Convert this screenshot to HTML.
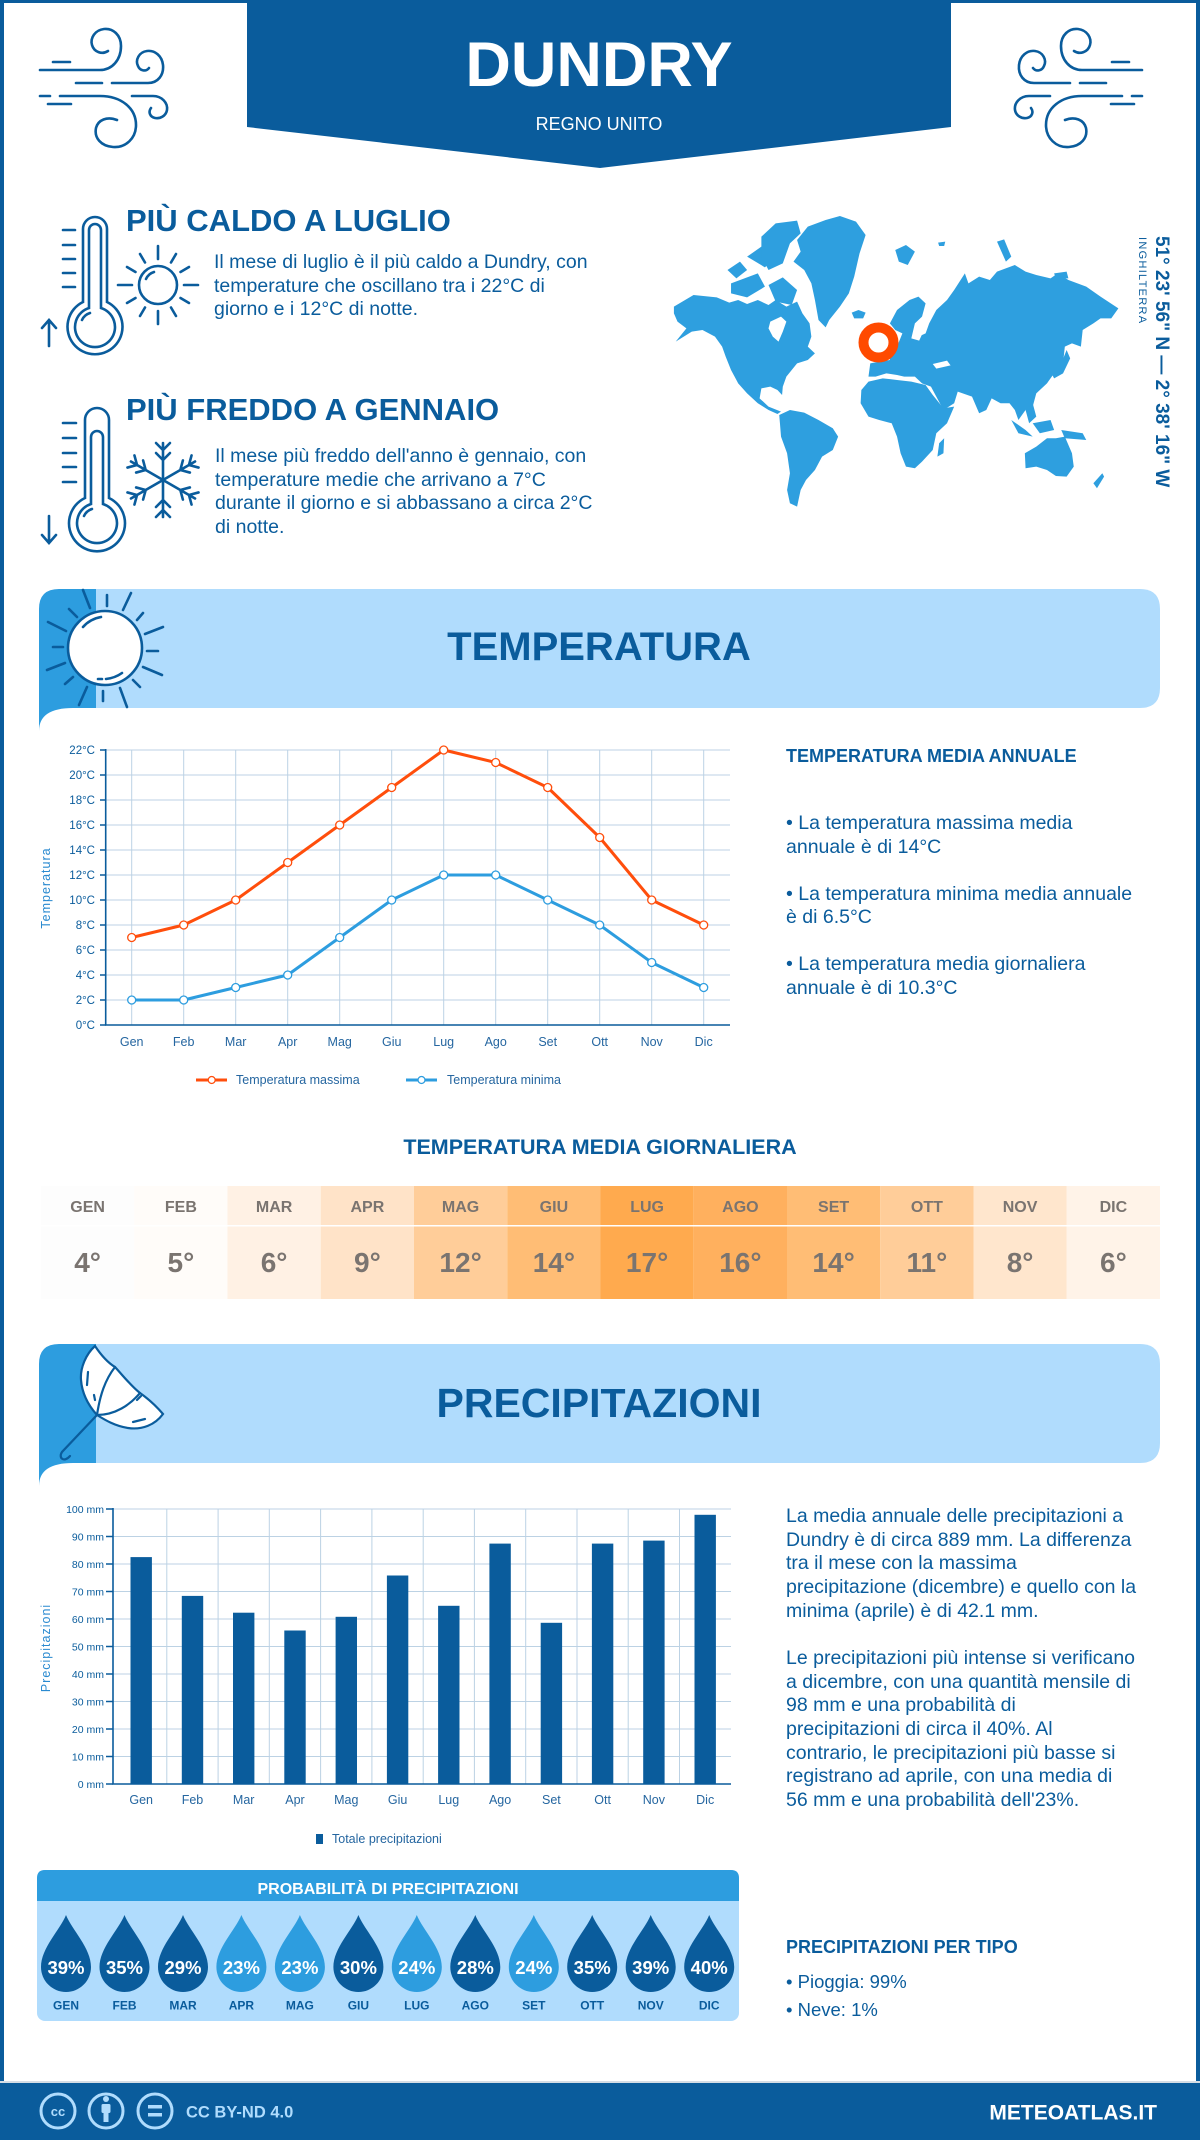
<!DOCTYPE html>
<html lang="it">
<head>
<meta charset="utf-8">
<title>Dundry - Clima</title>
<style>
  html,body{margin:0;padding:0;background:#fff;}
  #page{position:relative;width:1200px;height:2140px;overflow:hidden;background:#fff;font-family:"Liberation Sans",sans-serif;color:#0a5c9c;}
  svg.bg{position:absolute;left:0;top:0;}
  .t{position:absolute;white-space:nowrap;font-family:"Liberation Sans",sans-serif;}
  .b{font-weight:bold;}
  .body{font-size:19.5px;line-height:23.5px;color:#0a5c9c;}
</style>
</head>
<body>
<div id="page">
<svg class="bg" width="1200" height="2140" viewBox="0 0 1200 2140" xmlns="http://www.w3.org/2000/svg">
  <!-- frame -->
  <rect x="0" y="0" width="1200" height="3" fill="#0a5c9c"/>
  <rect x="0" y="0" width="4" height="2090" fill="#0a5c9c"/>
  <rect x="1196" y="0" width="4" height="2090" fill="#0a5c9c"/>

  <!-- header banner -->
  <polygon points="247,0 951,0 951,127 600,168 247,127" fill="#0a5c9c"/>

  <!-- wind icons -->
  <g fill="none" stroke="#0a5c9c" stroke-width="2.6" stroke-linecap="round">
    <path d="M53,62 H70"/>
    <path d="M40,70 H100 C112,70 121,60 121,46 C121,35 113,28 104,29 C95,30 90,38 92,45 C94,52 102,55 108,51"/>
    <path d="M76,83 H102"/>
    <path d="M112,83 H148 C158,83 164,75 163,65 C162,56 155,50 147,51 C139,52 135,60 138,66 C140,71 146,72 149,68"/>
    <path d="M40,96 H50"/>
    <path d="M60,96 H100 C121,96 136,108 136,125 C136,138 126,148 113,147 C101,146 94,138 96,128 C98,120 107,116 117,120"/>
    <path d="M48,104 H71"/>
    <path d="M132,96 H153 C162,96 168,103 167,110 C166,116 160,119 155,118 C150,117 148,112 151,108"/>
  </g>
  <g transform="translate(1182,0) scale(-1,1)" fill="none" stroke="#0a5c9c" stroke-width="2.6" stroke-linecap="round">
    <path d="M53,62 H70"/>
    <path d="M40,70 H100 C112,70 121,60 121,46 C121,35 113,28 104,29 C95,30 90,38 92,45 C94,52 102,55 108,51"/>
    <path d="M76,83 H102"/>
    <path d="M112,83 H148 C158,83 164,75 163,65 C162,56 155,50 147,51 C139,52 135,60 138,66 C140,71 146,72 149,68"/>
    <path d="M40,96 H50"/>
    <path d="M60,96 H100 C121,96 136,108 136,125 C136,138 126,148 113,147 C101,146 94,138 96,128 C98,120 107,116 117,120"/>
    <path d="M48,104 H71"/>
    <path d="M132,96 H153 C162,96 168,103 167,110 C166,116 160,119 155,118 C150,117 148,112 151,108"/>
  </g>

  <!-- thermometer 1 -->
  <g fill="none" stroke="#0a5c9c" stroke-width="2.6" stroke-linecap="round">
    <path d="M83,302 V229 A12,12 0 0 1 107,229 V302 A27.5,27.5 0 1 1 83,302 Z"/>
    <path d="M89,308 V230 A6,6 0 0 1 101,230 V308 A20,20 0 1 1 89,308 Z"/>
    <path d="M82,320 A13,13 0 0 1 90,313"/>
    <path d="M63,230 H75 M63,245 H75 M63,259 H75 M63,273 H75 M63,287 H75"/>
    <path d="M49,346 V321 M42,328 L49,320 L56,328"/>
  </g>
  <!-- sun small -->
  <g fill="none" stroke="#0a5c9c" stroke-width="2.6" stroke-linecap="round" transform="translate(158,285)">
    <circle r="19"/>
    <path d="M-12,-6 A13,13 0 0 1 -4,-13"/>
    <path d="M0,-26 V-39 M0,26 V39 M-26,0 H-40 M26,0 H40"/>
    <path d="M13,-22.5 L18,-31 M22.5,-13 L31,-18 M22.5,13 L31,18 M13,22.5 L18,31 M-13,22.5 L-18,31 M-22.5,13 L-31,18 M-22.5,-13 L-31,-18 M-13,-22.5 L-18,-31"/>
  </g>

  <!-- thermometer 2 -->
  <g fill="none" stroke="#0a5c9c" stroke-width="2.6" stroke-linecap="round">
    <path d="M85,498 V420 A12,12 0 0 1 109,420 V498 A28,28 0 1 1 85,498 Z"/>
    <path d="M91,504 V437 A6,6 0 0 1 103,437 V504 A20,20 0 1 1 91,504 Z"/>
    <path d="M84,516 A13,13 0 0 1 92,509"/>
    <path d="M63,423 H76 M63,438 H76 M63,453 H76 M63,467 H76 M63,482 H76"/>
    <path d="M49,516 V542 M42,535 L49,543 L56,535"/>
  </g>
  <!-- snowflake -->
  <g fill="none" stroke="#0a5c9c" stroke-width="2.6" stroke-linecap="round" transform="translate(163,480)">
    <path d="M0,0 V-37 M-7,-27 L0,-20 L7,-27 M-7,-37 L0,-30 L7,-37"/>
    <g transform="rotate(60)"><path d="M0,0 V-37 M-7,-27 L0,-20 L7,-27 M-7,-37 L0,-30 L7,-37"/></g>
    <g transform="rotate(120)"><path d="M0,0 V-37 M-7,-27 L0,-20 L7,-27 M-7,-37 L0,-30 L7,-37"/></g>
    <g transform="rotate(180)"><path d="M0,0 V-37 M-7,-27 L0,-20 L7,-27 M-7,-37 L0,-30 L7,-37"/></g>
    <g transform="rotate(240)"><path d="M0,0 V-37 M-7,-27 L0,-20 L7,-27 M-7,-37 L0,-30 L7,-37"/></g>
    <g transform="rotate(300)"><path d="M0,0 V-37 M-7,-27 L0,-20 L7,-27 M-7,-37 L0,-30 L7,-37"/></g>
  </g>

  <!-- world map -->
  <g transform="translate(640,190) scale(0.357,0.3333)" fill="#2e9fdf">
    <path d="M95,350 L150,315 L215,322 L250,338 L275,330 L300,342 L330,330 L360,345 L380,330 L410,350 L440,335 L455,370 L475,400 L480,440 L470,470 L490,490 L470,510 L440,520 L425,540 L410,560 L400,590 L398,615 L385,600 L365,590 L340,595 L335,625 L360,650 L395,665 L385,672 L360,660 L330,640 L300,610 L275,580 L255,540 L240,500 L230,470 L210,440 L175,420 L145,425 L100,455 L130,415 L105,395 L95,370 Z"/>
    <path d="M245,240 L280,215 L300,240 L270,265 Z"/>
    <path d="M255,280 L330,250 L350,290 L300,322 L255,310 Z"/>
    <path d="M300,200 L340,170 L380,200 L350,232 Z"/>
    <path d="M340,140 L380,100 L440,92 L450,130 L420,160 L400,220 L360,240 L340,200 Z"/>
    <path d="M360,285 L400,262 L440,300 L425,345 L380,335 Z"/>
    <path d="M440,150 L470,110 L520,90 L560,78 L605,95 L632,135 L615,190 L600,260 L585,310 L560,350 L530,390 L520,412 L500,390 L490,330 L480,280 L460,240 L430,215 L450,185 Z"/>
    <path d="M593,368 L612,360 L632,368 L625,385 L600,385 Z"/>
    <path d="M390,675 L420,660 L460,668 L500,690 L540,715 L555,740 L540,780 L510,800 L490,840 L465,870 L450,900 L440,950 L420,940 L412,900 L420,850 L412,790 L395,740 L392,700 Z"/>
    <path d="M640,560 L645,520 L670,515 L700,510 L700,480 L720,470 L735,430 L715,420 L700,400 L720,360 L755,330 L780,320 L800,340 L790,380 L770,420 L780,440 L800,430 L810,400 L830,360 L860,330 L880,300 L910,250 L920,280 L950,260 L980,270 L1000,245 L1050,225 L1080,245 L1110,255 L1150,265 L1170,250 L1200,270 L1250,290 L1290,320 L1340,355 L1320,385 L1290,385 L1270,400 L1240,420 L1235,470 L1210,460 L1190,470 L1185,520 L1160,550 L1140,580 L1110,610 L1100,650 L1080,660 L1060,690 L1050,660 L1035,640 L1010,640 L985,625 L970,660 L950,670 L930,620 L890,605 L880,640 L850,660 L830,620 L815,590 L790,580 L770,560 L740,560 L720,555 L690,550 L660,560 Z"/>
    <path d="M655,420 L690,405 L705,450 L690,485 L660,482 Z"/>
    <path d="M620,600 L640,575 L680,565 L720,570 L760,575 L800,585 L820,615 L850,655 L880,650 L860,700 L830,730 L820,780 L790,815 L770,835 L745,830 L730,790 L720,740 L705,700 L670,690 L640,680 L618,640 Z"/>
    <path d="M838,760 L852,745 L850,790 L833,800 Z"/>
    <path d="M1150,545 L1180,520 L1195,480 L1205,505 L1185,550 L1160,565 Z"/>
    <path d="M1040,690 L1080,720 L1100,740 L1060,730 Z"/>
    <path d="M1100,700 L1150,690 L1160,720 L1120,730 Z"/>
    <path d="M1180,720 L1240,730 L1250,750 L1190,745 Z"/>
    <path d="M1080,660 L1100,640 L1110,680 L1090,700 Z"/>
    <path d="M1078,790 L1110,770 L1140,745 L1165,745 L1190,740 L1210,790 L1215,830 L1195,860 L1165,858 L1140,840 L1110,830 L1080,835 Z"/>
    <path d="M1270,880 L1295,850 L1300,860 L1280,895 Z"/>
    <path d="M715,180 L745,165 L770,185 L750,225 L725,215 Z"/>
    <path d="M1000,155 L1020,148 L1040,200 L1025,215 Z"/>
    <path d="M835,158 L855,155 L852,168 L838,168 Z"/>
    <path d="M1160,250 L1195,245 L1200,265 L1165,265 Z"/>
    <path fill="#fff" d="M365,395 L395,380 L410,395 L400,425 L388,455 L372,440 L360,415 Z"/>
    <path fill="#fff" d="M760,445 L770,400 L790,380 L800,410 L782,452 Z"/>
    <path fill="#fff" d="M820,522 L860,512 L870,526 L830,536 Z"/>
  </g>
  <circle cx="878.5" cy="342.5" r="15" fill="#fff" stroke="#ff4a00" stroke-width="10"/>

  <!-- temperature banner -->
  <path d="M39,731 V609 Q39,589 59,589 H96 V708 H73 Q39,708 39,731 Z" fill="#2d9ddf"/>
  <path d="M96,589 H1140 Q1160,589 1160,609 V688 Q1160,708 1140,708 H96 Z" fill="#b0dcfd"/>
  <g fill="none" stroke="#0a5c9c" stroke-width="2.6" stroke-linecap="round">
    <circle cx="105" cy="648" r="37" fill="#fff"/>
    <path d="M83,627 Q90,619 101,617"/>
    <path d="M98,679 L102,679 M106,679 Q115,678 122,673"/>
    <path d="M83,590 L90,608 M107,595 L107,606 M131,593 L123,610 M143,613 L137,620 M163,627 L145,634 M158,651 L147,651 M162,675 L143,667 M140,687 L133,680 M127,707 L120,688 M103,701 L103,691 M79,705 L87,687 M65,684 L73,677 M47,670 L65,663 M53,647 L63,647 M48,622 L66,631 M69,609 L77,617"/>
  </g>

  <!-- temperature chart -->
  <g stroke="#bcd2e4" stroke-width="1" fill="none">
    <path d="M106,750 H730 M106,775 H730 M106,800 H730 M106,825 H730 M106,850 H730 M106,875 H730 M106,900 H730 M106,925 H730 M106,950 H730 M106,975 H730 M106,1000 H730"/>
    <path d="M131.7,750 V1025 M183.7,750 V1025 M235.7,750 V1025 M287.7,750 V1025 M339.7,750 V1025 M391.7,750 V1025 M443.7,750 V1025 M495.7,750 V1025 M547.7,750 V1025 M599.7,750 V1025 M651.7,750 V1025 M703.7,750 V1025"/>
  </g>
  <g stroke="#0a5c9c" stroke-width="1.6" fill="none">
    <path d="M105.7,749 V1025 H730"/>
    <path d="M100,750 H106 M100,775 H106 M100,800 H106 M100,825 H106 M100,850 H106 M100,875 H106 M100,900 H106 M100,925 H106 M100,950 H106 M100,975 H106 M100,1000 H106 M100,1025 H106"/>
  </g>
  <g font-family="Liberation Sans, sans-serif" font-size="11.5" fill="#0a5c9c" text-anchor="end">
    <text x="95" y="754">22°C</text><text x="95" y="779">20°C</text><text x="95" y="804">18°C</text>
    <text x="95" y="829">16°C</text><text x="95" y="854">14°C</text><text x="95" y="879">12°C</text>
    <text x="95" y="904">10°C</text><text x="95" y="929">8°C</text><text x="95" y="954">6°C</text>
    <text x="95" y="979">4°C</text><text x="95" y="1004">2°C</text><text x="95" y="1029">0°C</text>
  </g>
  <text x="0" y="0" transform="translate(50,888) rotate(-90)" text-anchor="middle" font-family="Liberation Sans, sans-serif" font-size="12.5" letter-spacing="1" fill="#2a8ad0">Temperatura</text>
  <g font-family="Liberation Sans, sans-serif" font-size="12.5" fill="#2566a0" text-anchor="middle">
    <text x="131.7" y="1046">Gen</text><text x="183.7" y="1046">Feb</text><text x="235.7" y="1046">Mar</text>
    <text x="287.7" y="1046">Apr</text><text x="339.7" y="1046">Mag</text><text x="391.7" y="1046">Giu</text>
    <text x="443.7" y="1046">Lug</text><text x="495.7" y="1046">Ago</text><text x="547.7" y="1046">Set</text>
    <text x="599.7" y="1046">Ott</text><text x="651.7" y="1046">Nov</text><text x="703.7" y="1046">Dic</text>
  </g>
  <polyline fill="none" stroke="#ff4e0c" stroke-width="3" stroke-linejoin="round" points="131.7,937.5 183.7,925 235.7,900 287.7,862.5 339.7,825 391.7,787.5 443.7,750 495.7,762.5 547.7,787.5 599.7,837.5 651.7,900 703.7,925"/>
  <polyline fill="none" stroke="#2d9ddf" stroke-width="3" stroke-linejoin="round" points="131.7,1000 183.7,1000 235.7,987.5 287.7,975 339.7,937.5 391.7,900 443.7,875 495.7,875 547.7,900 599.7,925 651.7,962.5 703.7,987.5"/>
  <g fill="#fff" stroke="#ff4e0c" stroke-width="1.3">
    <circle cx="131.7" cy="937.5" r="4"/><circle cx="183.7" cy="925" r="4"/><circle cx="235.7" cy="900" r="4"/>
    <circle cx="287.7" cy="862.5" r="4"/><circle cx="339.7" cy="825" r="4"/><circle cx="391.7" cy="787.5" r="4"/>
    <circle cx="443.7" cy="750" r="4"/><circle cx="495.7" cy="762.5" r="4"/><circle cx="547.7" cy="787.5" r="4"/>
    <circle cx="599.7" cy="837.5" r="4"/><circle cx="651.7" cy="900" r="4"/><circle cx="703.7" cy="925" r="4"/>
  </g>
  <g fill="#fff" stroke="#2d9ddf" stroke-width="1.3">
    <circle cx="131.7" cy="1000" r="4"/><circle cx="183.7" cy="1000" r="4"/><circle cx="235.7" cy="987.5" r="4"/>
    <circle cx="287.7" cy="975" r="4"/><circle cx="339.7" cy="937.5" r="4"/><circle cx="391.7" cy="900" r="4"/>
    <circle cx="443.7" cy="875" r="4"/><circle cx="495.7" cy="875" r="4"/><circle cx="547.7" cy="900" r="4"/>
    <circle cx="599.7" cy="925" r="4"/><circle cx="651.7" cy="962.5" r="4"/><circle cx="703.7" cy="987.5" r="4"/>
  </g>
  <!-- legend -->
  <path d="M196,1080 H227" stroke="#ff4e0c" stroke-width="3" fill="none"/>
  <circle cx="211.7" cy="1080" r="3.5" fill="#fff" stroke="#ff4e0c" stroke-width="1.3"/>
  <text x="236" y="1084" font-family="Liberation Sans, sans-serif" font-size="12.5" fill="#2566a0">Temperatura massima</text>
  <path d="M406,1080 H437" stroke="#2d9ddf" stroke-width="3" fill="none"/>
  <circle cx="421.5" cy="1080" r="3.5" fill="#fff" stroke="#2d9ddf" stroke-width="1.3"/>
  <text x="447" y="1084" font-family="Liberation Sans, sans-serif" font-size="12.5" fill="#2566a0">Temperatura minima</text>

  <!-- daily temperature table -->
  <g>
    <rect x="41" y="1186" width="93.25" height="113" fill="#fdfdfd"/>
    <rect x="134.25" y="1186" width="93.25" height="113" fill="#fffcf9"/>
    <rect x="227.5" y="1186" width="93.25" height="113" fill="#fff1e4"/>
    <rect x="320.75" y="1186" width="93.25" height="113" fill="#ffe3c8"/>
    <rect x="414" y="1186" width="93.25" height="113" fill="#ffcd99"/>
    <rect x="507.25" y="1186" width="93.25" height="113" fill="#ffbd75"/>
    <rect x="600.5" y="1186" width="93.25" height="113" fill="#ffaa4e"/>
    <rect x="693.75" y="1186" width="93.25" height="113" fill="#ffb05e"/>
    <rect x="787" y="1186" width="93.25" height="113" fill="#ffbd75"/>
    <rect x="880.25" y="1186" width="93.25" height="113" fill="#ffcd99"/>
    <rect x="973.5" y="1186" width="93.25" height="113" fill="#ffe6cd"/>
    <rect x="1066.75" y="1186" width="93.25" height="113" fill="#fff3e8"/>
    <rect x="41" y="1225" width="1119" height="1.5" fill="#fff"/>
  </g>
  <g font-family="Liberation Sans, sans-serif" font-weight="bold" font-size="16" fill="#7a7470" text-anchor="middle">
    <text x="87.6" y="1212">GEN</text><text x="180.9" y="1212">FEB</text><text x="274.1" y="1212">MAR</text>
    <text x="367.4" y="1212">APR</text><text x="460.6" y="1212">MAG</text><text x="553.9" y="1212">GIU</text>
    <text x="647.1" y="1212">LUG</text><text x="740.4" y="1212">AGO</text><text x="833.6" y="1212">SET</text>
    <text x="926.9" y="1212">OTT</text><text x="1020.1" y="1212">NOV</text><text x="1113.4" y="1212">DIC</text>
  </g>
  <g font-family="Liberation Sans, sans-serif" font-weight="bold" font-size="28" fill="#7a7470" text-anchor="middle">
    <text x="87.6" y="1272">4°</text><text x="180.9" y="1272">5°</text><text x="274.1" y="1272">6°</text>
    <text x="367.4" y="1272">9°</text><text x="460.6" y="1272">12°</text><text x="553.9" y="1272">14°</text>
    <text x="647.1" y="1272">17°</text><text x="740.4" y="1272">16°</text><text x="833.6" y="1272">14°</text>
    <text x="926.9" y="1272">11°</text><text x="1020.1" y="1272">8°</text><text x="1113.4" y="1272">6°</text>
  </g>

  <!-- precipitation banner -->
  <path d="M39,1486 V1364 Q39,1344 59,1344 H96 V1463 H73 Q39,1463 39,1486 Z" fill="#2d9ddf"/>
  <path d="M96,1344 H1140 Q1160,1344 1160,1364 V1443 Q1160,1463 1140,1463 H96 Z" fill="#b0dcfd"/>
  <g fill="none" stroke="#0a5c9c" stroke-width="2.2" stroke-linecap="round">
    <path fill="#fff" d="M95,1346 C103,1358 110,1364 115,1367 C125,1378 132,1387 140,1393 C150,1400 157,1407 163,1414 C155,1425 142,1430 128,1428 C115,1426 105,1420 97,1415 C88,1405 82,1393 81,1380 C80,1368 86,1354 95,1346 Z"/>
    <path d="M97,1415 C100,1395 105,1380 115,1367"/>
    <path d="M97,1415 C115,1415 130,1405 140,1393"/>
    <path d="M88,1372 L87,1385 M133,1422 L145,1419 M137,1400 L141,1396 M94,1395 L95,1400"/>
    <path d="M97,1415 L62,1452 C58,1458 64,1463 70,1456"/>
  </g>

  <!-- precipitation chart -->
  <g stroke="#bcd2e4" stroke-width="1" fill="none">
    <path d="M113,1509 H731 M113,1536.5 H731 M113,1564 H731 M113,1591.5 H731 M113,1619 H731 M113,1646.5 H731 M113,1674 H731 M113,1701.5 H731 M113,1729 H731 M113,1756.5 H731"/>
    <path d="M166.8,1509 V1784 M218.1,1509 V1784 M269.3,1509 V1784 M320.6,1509 V1784 M371.9,1509 V1784 M423.2,1509 V1784 M474.4,1509 V1784 M525.7,1509 V1784 M577,1509 V1784 M628.2,1509 V1784 M679.5,1509 V1784"/>
  </g>
  <g fill="#0a5c9c">
    <rect x="130.5" y="1557.1" width="21.4" height="226.9"/>
    <rect x="181.8" y="1595.9" width="21.4" height="188.1"/>
    <rect x="233" y="1612.7" width="21.4" height="171.3"/>
    <rect x="284.3" y="1630.5" width="21.4" height="153.5"/>
    <rect x="335.6" y="1616.8" width="21.4" height="167.2"/>
    <rect x="386.9" y="1575.5" width="21.4" height="208.5"/>
    <rect x="438.1" y="1605.8" width="21.4" height="178.2"/>
    <rect x="489.4" y="1543.6" width="21.4" height="240.4"/>
    <rect x="540.7" y="1622.8" width="21.4" height="161.2"/>
    <rect x="591.9" y="1543.6" width="21.4" height="240.4"/>
    <rect x="643.2" y="1540.6" width="21.4" height="243.4"/>
    <rect x="694.5" y="1514.8" width="21.4" height="269.2"/>
  </g>
  <g stroke="#0a5c9c" stroke-width="1.6" fill="none">
    <path d="M113,1508 V1784 H731"/>
    <path d="M106,1509 H113 M106,1536.5 H113 M106,1564 H113 M106,1591.5 H113 M106,1619 H113 M106,1646.5 H113 M106,1674 H113 M106,1701.5 H113 M106,1729 H113 M106,1756.5 H113 M106,1784 H113"/>
  </g>
  <g font-family="Liberation Sans, sans-serif" font-size="10.5" fill="#0a5c9c" text-anchor="end">
    <text x="104" y="1513">100 mm</text><text x="104" y="1540.5">90 mm</text><text x="104" y="1568">80 mm</text>
    <text x="104" y="1595.5">70 mm</text><text x="104" y="1623">60 mm</text><text x="104" y="1650.5">50 mm</text>
    <text x="104" y="1678">40 mm</text><text x="104" y="1705.5">30 mm</text><text x="104" y="1733">20 mm</text>
    <text x="104" y="1760.5">10 mm</text><text x="104" y="1788">0 mm</text>
  </g>
  <text x="0" y="0" transform="translate(50,1648) rotate(-90)" text-anchor="middle" font-family="Liberation Sans, sans-serif" font-size="12.5" letter-spacing="1" fill="#2a8ad0">Precipitazioni</text>
  <g font-family="Liberation Sans, sans-serif" font-size="12.5" fill="#2566a0" text-anchor="middle">
    <text x="141.2" y="1804">Gen</text><text x="192.5" y="1804">Feb</text><text x="243.7" y="1804">Mar</text>
    <text x="295" y="1804">Apr</text><text x="346.3" y="1804">Mag</text><text x="397.6" y="1804">Giu</text>
    <text x="448.8" y="1804">Lug</text><text x="500.1" y="1804">Ago</text><text x="551.4" y="1804">Set</text>
    <text x="602.6" y="1804">Ott</text><text x="653.9" y="1804">Nov</text><text x="705.2" y="1804">Dic</text>
  </g>
  <rect x="316" y="1834" width="7" height="10" fill="#0a5c9c"/>
  <text x="332" y="1843" font-family="Liberation Sans, sans-serif" font-size="12.5" fill="#2566a0">Totale precipitazioni</text>

  <!-- probability box -->
  <rect x="37" y="1870" width="702" height="151" rx="8" fill="#b0dcfd"/>
  <path d="M37,1901 V1878 Q37,1870 45,1870 H731 Q739,1870 739,1878 V1901 Z" fill="#2d9ddf"/>
  <text x="388" y="1894" text-anchor="middle" font-family="Liberation Sans, sans-serif" font-weight="bold" font-size="16" fill="#fff">PROBABILITÀ DI PRECIPITAZIONI</text>
  <g>
    <path transform="translate(66,1966)" fill="#0a5c9c" d="M0,-51 C6,-36 25,-18 25,1 A25,25 0 1 1 -25,1 C-25,-18 -6,-36 0,-51Z"/>
    <path transform="translate(124.5,1966)" fill="#0a5c9c" d="M0,-51 C6,-36 25,-18 25,1 A25,25 0 1 1 -25,1 C-25,-18 -6,-36 0,-51Z"/>
    <path transform="translate(183,1966)" fill="#0a5c9c" d="M0,-51 C6,-36 25,-18 25,1 A25,25 0 1 1 -25,1 C-25,-18 -6,-36 0,-51Z"/>
    <path transform="translate(241.4,1966)" fill="#2d9ddf" d="M0,-51 C6,-36 25,-18 25,1 A25,25 0 1 1 -25,1 C-25,-18 -6,-36 0,-51Z"/>
    <path transform="translate(299.9,1966)" fill="#2d9ddf" d="M0,-51 C6,-36 25,-18 25,1 A25,25 0 1 1 -25,1 C-25,-18 -6,-36 0,-51Z"/>
    <path transform="translate(358.4,1966)" fill="#0a5c9c" d="M0,-51 C6,-36 25,-18 25,1 A25,25 0 1 1 -25,1 C-25,-18 -6,-36 0,-51Z"/>
    <path transform="translate(416.8,1966)" fill="#2d9ddf" d="M0,-51 C6,-36 25,-18 25,1 A25,25 0 1 1 -25,1 C-25,-18 -6,-36 0,-51Z"/>
    <path transform="translate(475.3,1966)" fill="#0a5c9c" d="M0,-51 C6,-36 25,-18 25,1 A25,25 0 1 1 -25,1 C-25,-18 -6,-36 0,-51Z"/>
    <path transform="translate(533.8,1966)" fill="#2d9ddf" d="M0,-51 C6,-36 25,-18 25,1 A25,25 0 1 1 -25,1 C-25,-18 -6,-36 0,-51Z"/>
    <path transform="translate(592.2,1966)" fill="#0a5c9c" d="M0,-51 C6,-36 25,-18 25,1 A25,25 0 1 1 -25,1 C-25,-18 -6,-36 0,-51Z"/>
    <path transform="translate(650.7,1966)" fill="#0a5c9c" d="M0,-51 C6,-36 25,-18 25,1 A25,25 0 1 1 -25,1 C-25,-18 -6,-36 0,-51Z"/>
    <path transform="translate(709.2,1966)" fill="#0a5c9c" d="M0,-51 C6,-36 25,-18 25,1 A25,25 0 1 1 -25,1 C-25,-18 -6,-36 0,-51Z"/>
  </g>
  <g font-family="Liberation Sans, sans-serif" font-weight="bold" font-size="18.5" fill="#fff" text-anchor="middle">
    <text x="66" y="1974">39%</text><text x="124.5" y="1974">35%</text><text x="183" y="1974">29%</text>
    <text x="241.4" y="1974">23%</text><text x="299.9" y="1974">23%</text><text x="358.4" y="1974">30%</text>
    <text x="416.8" y="1974">24%</text><text x="475.3" y="1974">28%</text><text x="533.8" y="1974">24%</text>
    <text x="592.2" y="1974">35%</text><text x="650.7" y="1974">39%</text><text x="709.2" y="1974">40%</text>
  </g>
  <g font-family="Liberation Sans, sans-serif" font-weight="bold" font-size="12" fill="#0a5c9c" text-anchor="middle">
    <text x="66" y="2009.5">GEN</text><text x="124.5" y="2009.5">FEB</text><text x="183" y="2009.5">MAR</text>
    <text x="241.4" y="2009.5">APR</text><text x="299.9" y="2009.5">MAG</text><text x="358.4" y="2009.5">GIU</text>
    <text x="416.8" y="2009.5">LUG</text><text x="475.3" y="2009.5">AGO</text><text x="533.8" y="2009.5">SET</text>
    <text x="592.2" y="2009.5">OTT</text><text x="650.7" y="2009.5">NOV</text><text x="709.2" y="2009.5">DIC</text>
  </g>

  <!-- footer -->
  <rect x="0" y="2081" width="1200" height="2" fill="#d5dde5"/>
  <rect x="0" y="2083" width="1200" height="57" fill="#0a5c9c"/>
  <g fill="none" stroke="#b0dcfd" stroke-width="3">
    <circle cx="58" cy="2111" r="17"/>
    <circle cx="106" cy="2111" r="17"/>
    <circle cx="155" cy="2111" r="17"/>
  </g>
  <text x="58" y="2116" text-anchor="middle" font-family="Liberation Sans, sans-serif" font-weight="bold" font-size="13" fill="#b0dcfd">cc</text>
  <circle cx="106" cy="2099" r="3" fill="#b0dcfd"/>
  <rect x="101.5" y="2104" width="9" height="9" rx="1.5" fill="#b0dcfd"/>
  <rect x="103.5" y="2112" width="5" height="10" fill="#b0dcfd"/>
  <rect x="148" y="2105" width="14" height="3.5" fill="#b0dcfd"/>
  <rect x="148" y="2113" width="14" height="3.5" fill="#b0dcfd"/>
  <text x="186" y="2117.5" font-family="Liberation Sans, sans-serif" font-weight="bold" font-size="16.5" fill="#b0dcfd">CC BY-ND 4.0</text>
  <text x="1157" y="2119.5" text-anchor="end" font-family="Liberation Sans, sans-serif" font-weight="bold" font-size="21" fill="#fff">METEOATLAS.IT</text>
</svg>

<!-- header text -->
<div class="t b" style="left:247px;width:704px;top:30px;line-height:70px;font-size:63px;color:#fff;text-align:center;">DUNDRY</div>
<div class="t" style="left:247px;width:704px;top:114px;line-height:21px;font-size:18px;color:#fff;text-align:center;">REGNO UNITO</div>

<!-- warm / cold -->
<div class="t b" style="left:126px;top:203px;line-height:36px;font-size:31px;color:#0a5c9c;">PIÙ CALDO A LUGLIO</div>
<div class="t body" style="left:214px;top:251px;">Il mese di luglio è il più caldo a Dundry, con<br>temperature che oscillano tra i 22°C di<br>giorno e i 12°C di notte.</div>
<div class="t b" style="left:126px;top:392px;line-height:36px;font-size:31px;color:#0a5c9c;">PIÙ FREDDO A GENNAIO</div>
<div class="t body" style="left:215px;top:445px;">Il mese più freddo dell'anno è gennaio, con<br>temperature medie che arrivano a 7°C<br>durante il giorno e si abbassano a circa 2°C<br>di notte.</div>

<!-- coordinates -->
<div class="t b" style="left:1150px;top:236px;line-height:22px;font-size:19px;color:#0a5c9c;writing-mode:vertical-rl;">51° 23' 56" N — 2° 38' 16" W</div>
<div class="t" style="left:1135px;top:237px;line-height:14px;font-size:11px;letter-spacing:1.3px;color:#0a5c9c;writing-mode:vertical-rl;">INGHILTERRA</div>

<!-- temperature section -->
<div class="t b" style="left:38px;width:1122px;top:624px;line-height:46px;font-size:40px;color:#0a5c9c;text-align:center;">TEMPERATURA</div>
<div class="t b" style="left:786px;top:745px;line-height:22px;font-size:18px;color:#0a5c9c;">TEMPERATURA MEDIA ANNUALE</div>
<div class="t body" style="left:786px;top:812px;">• La temperatura massima media<br>annuale è di 14°C<br>&nbsp;<br>• La temperatura minima media annuale<br>è di 6.5°C<br>&nbsp;<br>• La temperatura media giornaliera<br>annuale è di 10.3°C</div>

<div class="t b" style="left:0;width:1200px;top:1134px;line-height:26px;font-size:21.5px;color:#0a5c9c;text-align:center;">TEMPERATURA MEDIA GIORNALIERA</div>

<!-- precipitation section -->
<div class="t b" style="left:38px;width:1122px;top:1380px;line-height:46px;font-size:41px;color:#0a5c9c;text-align:center;">PRECIPITAZIONI</div>
<div class="t body" style="left:786px;top:1505px;line-height:23.67px;">La media annuale delle precipitazioni a<br>Dundry è di circa 889 mm. La differenza<br>tra il mese con la massima<br>precipitazione (dicembre) e quello con la<br>minima (aprile) è di 42.1 mm.<br>&nbsp;<br>Le precipitazioni più intense si verificano<br>a dicembre, con una quantità mensile di<br>98 mm e una probabilità di<br>precipitazioni di circa il 40%. Al<br>contrario, le precipitazioni più basse si<br>registrano ad aprile, con una media di<br>56 mm e una probabilità dell'23%.</div>

<div class="t b" style="left:786px;top:1936px;line-height:22px;font-size:18px;color:#0a5c9c;">PRECIPITAZIONI PER TIPO</div>
<div class="t" style="left:786px;top:1970px;line-height:24px;font-size:18.5px;color:#0a5c9c;">• Pioggia: 99%</div>
<div class="t" style="left:786px;top:1998px;line-height:24px;font-size:18.5px;color:#0a5c9c;">• Neve: 1%</div>
</div>
</body>
</html>
